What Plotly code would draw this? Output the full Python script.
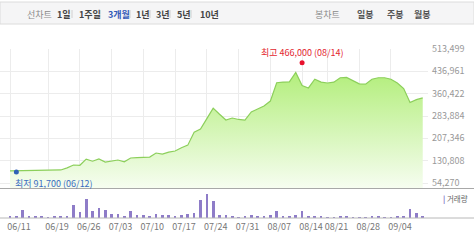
import plotly.graph_objects as go

dates = ["06/11","06/12","06/13","06/14","06/17","06/18","06/19","06/20","06/21","06/24",
         "06/25","06/26","06/27","06/28","07/01","07/02","07/03","07/04","07/05","07/08",
         "07/09","07/10","07/11","07/12","07/15","07/16","07/17","07/18","07/19","07/22",
         "07/23","07/24","07/25","07/26","07/29","07/30","07/31","08/01","08/02","08/05",
         "08/06","08/07","08/08","08/09","08/12","08/13","08/14","08/16","08/19","08/20",
         "08/21","08/22","08/23","08/26","08/27","08/28","08/29","08/30","09/02","09/03",
         "09/04","09/05","09/06","09/09","09/10","09/11"]

close = [96000, 96500, 97000, 97000, 97500, 98000, 98000, 98500, 99000, 106000,
         116000, 115000, 136000, 129000, 136500, 126000, 129000, 133000, 127000, 140000,
         141000, 142000, 143000, 157000, 153000, 160000, 164000, 175000, 184000, 228000,
         239000, 275000, 311000, 290000, 270000, 277000, 272000, 270000, 298000, 308000,
         318000, 335000, 398000, 400000, 401000, 433000, 388000, 380000, 410000, 400000,
         397000, 400000, 415000, 416000, 405000, 394000, 393000, 410000, 415000, 415000,
         410000, 397000, 378000, 330000, 340000, 346000]

volume = [170, 170, 830, 200, 170, 130, 70, 200, 170, 200,
          1270, 600, 1870, 730, 1030, 800, 370, 400, 130, 670,
          270, 270, 130, 400, 270, 330, 130, 300, 400, 470,
          1770, 2430, 1670, 330, 330, 200, 100, 170, 330, 200,
          170, 270, 670, 170, 170, 300, 670, 170, 170, 130,
          70, 100, 200, 130, 100, 100, 100, 200, 130, 100,
          100, 130, 200, 900, 530, 130]

price_ticks = [54270, 130808, 207346, 283884, 360422, 436961, 513499]
x_ticks = ["06/11", "06/19", "06/26", "07/03", "07/10", "07/17", "07/24",
           "07/31", "08/07", "08/14", "08/21", "08/28", "09/04"]

low_date, low_value = "06/12", 91700
high_date, high_value = "08/14", 466000

periods = ["1일", "1주일", "3개월", "1년", "3년", "5년", "10년"]
candles = ["일봉", "주봉", "월봉"]

FONT = "Noto Sans CJK KR, Noto Sans, sans-serif"

fig = go.Figure()
fig.add_trace(go.Scatter(
    x=dates, y=close, mode="lines", line=dict(color="#8ccf5b", width=1.2),
    fill="tozeroy",
    fillgradient=dict(type="vertical", start=37135, stop=440000,
                      colorscale=[[0, "rgba(246,253,240,1)"], [1, "rgba(178,238,122,1)"]]),
    xaxis="x", yaxis="y", hoverinfo="skip"))
fig.add_trace(go.Scatter(
    x=[low_date], y=[low_value], mode="markers",
    marker=dict(color="#2f62b5", size=5), xaxis="x", yaxis="y"))
fig.add_trace(go.Scatter(
    x=[high_date], y=[high_value], mode="markers",
    marker=dict(color="#e8112d", size=5), xaxis="x", yaxis="y"))
fig.add_trace(go.Bar(
    x=dates, y=volume, marker=dict(color="#8e7cc8", line=dict(width=0)),
    width=0.42, xaxis="x2", yaxis="y2"))

xr = [-1.575, 65.83]
fig.update_layout(
    width=474, height=242, margin=dict(l=0, r=46, t=49, b=24, autoexpand=False),
    paper_bgcolor="white", plot_bgcolor="white", showlegend=False,
    font=dict(family=FONT, size=9, color="#888"),
    xaxis=dict(type="category", categoryorder="array", categoryarray=dates,
               range=xr, tickvals=x_ticks, showticklabels=False,
               showgrid=True, gridcolor="#ececec", gridwidth=1, zeroline=False,
               anchor="y", domain=[0, 1], automargin=False),
    yaxis=dict(range=[37135, 513499], domain=[0.1775, 1], side="right",
               tickvals=price_ticks, ticktext=[f"{v:,}" for v in price_ticks],
               showgrid=True, gridcolor="#ececec", zeroline=False, automargin=False,
               tickfont=dict(size=9, color="#999"), ticklabelstandoff=3),
    xaxis2=dict(type="category", categoryorder="array", categoryarray=dates,
                range=xr, tickvals=x_ticks, ticks="", showgrid=False,
                anchor="y2", matches="x", tickangle=0, automargin=False,
                tickfont=dict(size=9, color="#777"), ticklabelshift=9, ticklabelstandoff=2),
    yaxis2=dict(range=[0, 2900], domain=[0, 0.1716], showticklabels=False,
                showgrid=False, zeroline=False, anchor="x2", automargin=False),
    bargap=0,
)

def py(p):
    return (218 - p) / 169.0

W = 474 / 428
shapes = []
# toolbar
shapes.append(dict(type="rect", xref="paper", yref="paper", x0=0, x1=W, y0=py(24), y1=py(2),
                   fillcolor="#f5f5f6", line=dict(color="#dcdcdc", width=1), layer="above"))
# panel separators
shapes.append(dict(type="line", xref="paper", yref="paper", x0=0, x1=W, y0=py(188.5), y1=py(188.5),
                   line=dict(color="#a8a8a8", width=1.2)))
shapes.append(dict(type="line", xref="paper", yref="paper", x0=0, x1=W, y0=py(218), y1=py(218),
                   line=dict(color="#b8b8b8", width=1)))

ann = []
ann.append(dict(x=25/428, y=py(14), xref="paper", yref="paper", text="선차트", showarrow=False,
                xanchor="left", yanchor="middle", font=dict(size=9, color="#8a8a8a")))
xs = [55, 77, 106, 134, 154, 175, 198]
for t, xp in zip(periods, xs):
    ann.append(dict(x=xp/428, y=py(14), xref="paper", yref="paper", text=f"<b>{t}</b>", showarrow=False,
                    xanchor="left", yanchor="middle",
                    font=dict(size=9, color="#3359b8" if t == "3개월" else "#444")))
for xp in [72, 100, 130, 150, 170, 191]:
    shapes.append(dict(type="line", xref="paper", yref="paper", x0=xp/428, x1=xp/428, y0=py(18), y1=py(10),
                       line=dict(color="#d0d0d0", width=1), layer="above"))
ann.append(dict(x=313/428, y=py(14), xref="paper", yref="paper", text="봉차트", showarrow=False,
                xanchor="left", yanchor="middle", font=dict(size=9, color="#8a8a8a")))
for t, xp in zip(candles, [355, 385, 412]):
    ann.append(dict(x=xp/428, y=py(14), xref="paper", yref="paper", text=f"<b>{t}</b>", showarrow=False,
                    xanchor="left", yanchor="middle", font=dict(size=9, color="#555")))
fig.update_layout(shapes=shapes)

ann.append(dict(x=low_date, y=low_value, xref="x", yref="y", text=f"최저 {low_value:,} ({low_date})",
                showarrow=False, xanchor="left", yanchor="top", xshift=-3, yshift=-3,
                font=dict(size=9, color="#3a6cc0")))
ann.append(dict(x=high_date, y=high_value, xref="x", yref="y", text=f"최고 {high_value:,} ({high_date})",
                showarrow=False, xanchor="center", yanchor="bottom", yshift=2,
                font=dict(size=9, color="#e3262f")))
ann.append(dict(x=441/428, y=py(198), xref="paper", yref="paper",
                text="<b><span style='color:#7b68c0'>|</span></b> 거래량", showarrow=False,
                xanchor="left", yanchor="middle", font=dict(size=7.5, color="#666")))
fig.update_layout(annotations=ann)

fig.write_html("out.html")
